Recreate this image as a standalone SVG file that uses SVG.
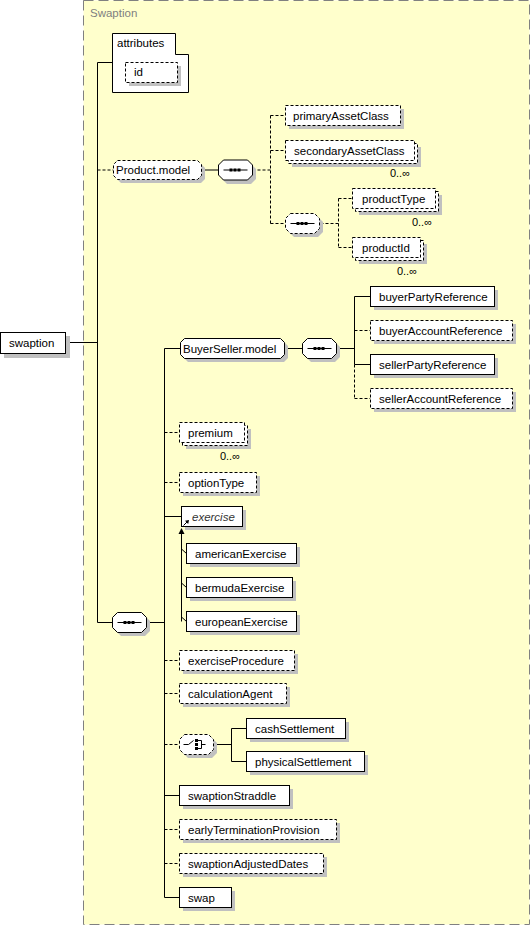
<svg xmlns="http://www.w3.org/2000/svg" xmlns:xlink="http://www.w3.org/1999/xlink" width="530" height="926" viewBox="0 0 530 926">
<style>
.bx{fill:#fff;stroke:#000;stroke-width:1}
.op{stroke-dasharray:3,2}
.sh{fill:#c0c0c0;stroke:none}
.t{font-family:"Liberation Sans",Arial,sans-serif;font-size:11.5px;fill:#000}
.ti{font-style:italic;fill:#333}
.m{font-family:"Liberation Sans",Arial,sans-serif;font-size:11px;fill:#000;text-anchor:end}
.c{stroke:#000;fill:none;stroke-width:1}
.d{stroke-dasharray:3,2}
</style>
<defs>
<path id="oct" d="M5,0 H29 L34,5 V15 L29,20 H5 L0,15 V5 Z"/>
<g id="seqg">
<path d="M-12,0 H12" stroke="#000" fill="none"/>
<rect x="-6" y="-1.5" width="3" height="3" fill="#000"/>
<rect x="-2" y="-1.5" width="3" height="3" fill="#000"/>
<rect x="2" y="-1.5" width="3" height="3" fill="#000"/>
</g>
<g id="chg">
<path d="M-13,0 H-8 L-3,-4" stroke="#000" fill="none"/>
<rect x="-1.5" y="-5.5" width="3" height="3" fill="#000"/>
<rect x="-1.5" y="-1.5" width="3" height="3" fill="#000"/>
<rect x="-1.5" y="2.5" width="3" height="3" fill="#000"/>
<path d="M1.5,-4 H5 V4 H1.5 M5,0 H9" stroke="#000" fill="none"/>
</g>
</defs>

<rect x="0" y="0" width="530" height="926" fill="#fff"/>

<g id="Swaption">
<rect x="83.5" y="0.5" width="446" height="924" fill="#ffffcc" stroke="#808080" stroke-dasharray="10,5"/>
<text x="90" y="17" class="t" style="fill:#808080">Swaption</text>
</g>

<g id="connectors">
<path class="c" d="M66,342.5 H97.5"/>
<path class="c" d="M97.5,62.5 V622.5"/>
<path class="c" d="M97.5,62.5 H112"/>
<path class="c d" d="M97.5,170 H113.5"/>
<path class="c" d="M201.5,170 H218.5"/>
<path class="c d" d="M252.5,170 H270.5"/>
<path class="c d" d="M270.5,115.5 V223.5"/>
<path class="c d" d="M270.5,115.5 H285.5 M270.5,150.5 H285.5 M270.5,223.5 H285.5"/>
<path class="c d" d="M320.5,223.5 H338.5 M338.5,198.5 V247.5 M338.5,198.5 H352.5 M338.5,247.5 H352.5"/>
<path class="c" d="M97.5,622.5 H112.5 M146.5,622.5 H164.5"/>
<path class="c" d="M164.5,348.5 V897.5"/>
<path class="c" d="M164.5,348.5 H180.5 M284.5,348.5 H302.5 M336.5,348.5 H354.5"/>
<path class="c" d="M354.5,296.5 V364.5 M354.5,296.5 H370.5 M354.5,364.5 H370.5"/>
<path class="c d" d="M354.5,364.5 V398.5 M354.5,330.5 H370.5 M354.5,398.5 H370.5"/>
<path class="c d" d="M164.5,432.5 H179.5 M164.5,482.5 H179.5 M164.5,660.5 H179.5 M164.5,693.5 H179.5 M164.5,744.5 H179.5 M164.5,829.5 H179.5 M164.5,863.5 H179.5"/>
<path class="c" d="M164.5,516.5 H181.5 M164.5,795.5 H179.5 M164.5,897.5 H179.5"/>
<path class="c" d="M213.5,744.5 H231.5 M231.5,728.5 V761.5 M231.5,728.5 H246.5 M231.5,761.5 H246.5"/>
<path class="c" d="M181.5,533 V621.5"/>
<polygon points="181.5,528 178.5,534 184.5,534" fill="#000"/>
<path class="c" d="M181.5,549 L186.5,553.5 M181.5,583 L186.5,587.5 M181.5,617 L186.5,621.5"/>
</g>

<g id="swaption">
<rect class="sh" x="4" y="336" width="66" height="22"/>
<rect class="bx" x="0.5" y="332.5" width="65" height="21"/>
<text class="t" x="9" y="347">swaption</text>
</g>

<g id="attributes">
<path class="bx" d="M112.5,33.5 H175.5 V54.5 H188.5 V92.5 H112.5 Z"/>
<text class="t" x="117" y="47">attributes</text>
</g>
<g id="id">
<rect class="sh" x="129" y="66" width="52" height="20"/>
<rect class="bx op" x="125.5" y="62.5" width="52" height="20"/>
<text class="t" x="134" y="76">id</text>
</g>

<g id="Product.model">
<path class="sh" d="M121,164 H201 L205,168 V179 L201,183 H121 L117,179 V168 Z"/>
<path class="bx op" d="M117.5,160.5 H197.5 L201.5,164.5 V175.5 L197.5,179.5 H117.5 L113.5,175.5 V164.5 Z"/>
<text class="t" x="116" y="174">Product.model</text>
</g>
<g id="seq1">
<use href="#oct" xlink:href="#oct" x="222" y="164" class="sh"/>
<use href="#oct" xlink:href="#oct" x="218.5" y="160" class="bx"/>
<use href="#seqg" xlink:href="#seqg" x="235.5" y="170"/>
</g>

<g id="primaryAssetClass">
<rect class="sh" x="289" y="109" width="115" height="20"/>
<rect class="bx op" x="285.5" y="105.5" width="115" height="20"/>
<text class="t" x="293" y="119.5">primaryAssetClass</text>
</g>
<g id="secondaryAssetClass">
<rect class="sh" x="292" y="147" width="129" height="20"/>
<rect class="bx op" x="288.5" y="143.5" width="129" height="20"/>
<rect class="bx op" x="285.5" y="140.5" width="129" height="20"/>
<text class="t" x="294" y="154.5">secondaryAssetClass</text>
<text class="m" x="410" y="177">0..∞</text>
</g>
<g id="seq2">
<use href="#oct" xlink:href="#oct" x="289" y="217" class="sh"/>
<use href="#oct" xlink:href="#oct" x="285.5" y="213.5" class="bx op"/>
<use href="#seqg" xlink:href="#seqg" x="302.5" y="223.5"/>
</g>
<g id="productType">
<rect class="sh" x="359" y="195" width="83" height="20"/>
<rect class="bx op" x="355.5" y="191.5" width="83" height="20"/>
<rect class="bx op" x="352.5" y="188.5" width="83" height="20"/>
<text class="t" x="362" y="202.5">productType</text>
<text class="m" x="432" y="226">0..∞</text>
</g>
<g id="productId">
<rect class="sh" x="359" y="244" width="68" height="20"/>
<rect class="bx op" x="355.5" y="240.5" width="68" height="20"/>
<rect class="bx op" x="352.5" y="237.5" width="68" height="20"/>
<text class="t" x="362" y="251.5">productId</text>
<text class="m" x="417" y="275">0..∞</text>
</g>

<g id="BuyerSeller.model">
<path class="sh" d="M188,342 H284 L288,346 V358 L284,362 H188 L184,358 V346 Z"/>
<path class="bx" d="M184.5,338.5 H280.5 L284.5,342.5 V354.5 L280.5,358.5 H184.5 L180.5,354.5 V342.5 Z"/>
<text class="t" x="183" y="352.5">BuyerSeller.model</text>
</g>
<g id="seq3">
<use href="#oct" xlink:href="#oct" x="306" y="342" class="sh"/>
<use href="#oct" xlink:href="#oct" x="302.5" y="338.5" class="bx"/>
<use href="#seqg" xlink:href="#seqg" x="319.5" y="348.5"/>
</g>
<g id="buyerPartyReference">
<rect class="sh" x="374" y="290" width="124" height="20"/>
<rect class="bx" x="370.5" y="286.5" width="124" height="20"/>
<text class="t" x="379" y="300.5">buyerPartyReference</text>
</g>
<g id="buyerAccountReference">
<rect class="sh" x="374" y="324" width="142" height="20"/>
<rect class="bx op" x="370.5" y="320.5" width="142" height="20"/>
<text class="t" x="379" y="334.5">buyerAccountReference</text>
</g>
<g id="sellerPartyReference">
<rect class="sh" x="374" y="358" width="124" height="20"/>
<rect class="bx" x="370.5" y="354.5" width="124" height="20"/>
<text class="t" x="379" y="368.5">sellerPartyReference</text>
</g>
<g id="sellerAccountReference">
<rect class="sh" x="374" y="392" width="142" height="20"/>
<rect class="bx op" x="370.5" y="388.5" width="142" height="20"/>
<text class="t" x="379" y="402.5">sellerAccountReference</text>
</g>

<g id="seqMain">
<use href="#oct" xlink:href="#oct" x="116" y="616" class="sh"/>
<use href="#oct" xlink:href="#oct" x="112.5" y="612.5" class="bx"/>
<use href="#seqg" xlink:href="#seqg" x="129.5" y="622.5"/>
</g>

<g id="premium">
<rect class="sh" x="186" y="429" width="65" height="20"/>
<rect class="bx op" x="182.5" y="425.5" width="65" height="20"/>
<rect class="bx op" x="179.5" y="422.5" width="65" height="20"/>
<text class="t" x="188" y="436.5">premium</text>
<text class="m" x="240" y="460">0..∞</text>
</g>
<g id="optionType">
<rect class="sh" x="183" y="476" width="77" height="20"/>
<rect class="bx op" x="179.5" y="472.5" width="77" height="20"/>
<text class="t" x="188" y="486.5">optionType</text>
</g>
<g id="exercise">
<rect class="sh" x="185" y="510" width="61" height="20"/>
<rect class="bx" x="181.5" y="506.5" width="61" height="20"/>
<text class="t ti" x="192" y="520.5">exercise</text>
<path d="M183.5,525.5 L187,522" stroke="#000" fill="none"/>
<polygon points="189,520 185,520.8 188.2,524" fill="#000"/>
</g>
<g id="americanExercise">
<rect class="sh" x="190" y="547" width="110" height="20"/>
<rect class="bx" x="186.5" y="543.5" width="110" height="20"/>
<text class="t" x="195" y="557.5">americanExercise</text>
</g>
<g id="bermudaExercise">
<rect class="sh" x="190" y="581" width="106" height="20"/>
<rect class="bx" x="186.5" y="577.5" width="106" height="20"/>
<text class="t" x="195" y="591.5">bermudaExercise</text>
</g>
<g id="europeanExercise">
<rect class="sh" x="190" y="615" width="110" height="20"/>
<rect class="bx" x="186.5" y="611.5" width="110" height="20"/>
<text class="t" x="195" y="625.5">europeanExercise</text>
</g>
<g id="exerciseProcedure">
<rect class="sh" x="183" y="654" width="115" height="20"/>
<rect class="bx op" x="179.5" y="650.5" width="115" height="20"/>
<text class="t" x="188" y="664.5">exerciseProcedure</text>
</g>
<g id="calculationAgent">
<rect class="sh" x="183" y="687" width="107" height="20"/>
<rect class="bx op" x="179.5" y="683.5" width="107" height="20"/>
<text class="t" x="188" y="697.5">calculationAgent</text>
</g>
<g id="choice">
<use href="#oct" xlink:href="#oct" x="183" y="738" class="sh"/>
<use href="#oct" xlink:href="#oct" x="179.5" y="734.5" class="bx op"/>
<use href="#chg" xlink:href="#chg" x="196.5" y="744.5"/>
</g>
<g id="cashSettlement">
<rect class="sh" x="250" y="722" width="99" height="20"/>
<rect class="bx" x="246.5" y="718.5" width="99" height="20"/>
<text class="t" x="255" y="732.5">cashSettlement</text>
</g>
<g id="physicalSettlement">
<rect class="sh" x="250" y="755" width="118" height="20"/>
<rect class="bx" x="246.5" y="751.5" width="118" height="20"/>
<text class="t" x="255" y="765.5">physicalSettlement</text>
</g>
<g id="swaptionStraddle">
<rect class="sh" x="183" y="789" width="110" height="20"/>
<rect class="bx" x="179.5" y="785.5" width="110" height="20"/>
<text class="t" x="188" y="799.5">swaptionStraddle</text>
</g>
<g id="earlyTerminationProvision">
<rect class="sh" x="183" y="823" width="157" height="20"/>
<rect class="bx op" x="179.5" y="819.5" width="157" height="20"/>
<text class="t" x="188" y="833.5">earlyTerminationProvision</text>
</g>
<g id="swaptionAdjustedDates">
<rect class="sh" x="183" y="857" width="144" height="20"/>
<rect class="bx op" x="179.5" y="853.5" width="144" height="20"/>
<text class="t" x="188" y="867.5">swaptionAdjustedDates</text>
</g>
<g id="swap">
<rect class="sh" x="183" y="891" width="52" height="20"/>
<rect class="bx" x="179.5" y="887.5" width="52" height="20"/>
<text class="t" x="188" y="901.5">swap</text>
</g>
</svg>
